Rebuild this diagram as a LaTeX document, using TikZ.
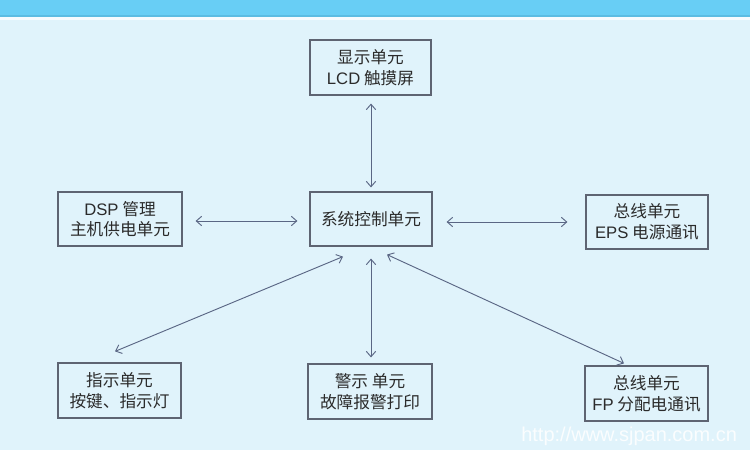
\documentclass[tikz,border=0pt]{standalone}
\usepackage{fontspec}
\setmainfont{Liberation Sans}
\newfontfamily\cjk{Noto Sans CJK SC}
\newfontfamily\lat{Liberation Sans}
\usetikzlibrary{arrows.meta,calc}
\definecolor{bandblue}{HTML}{68CEF5}
\definecolor{bandline}{HTML}{5CBCE2}
\definecolor{bgblue}{HTML}{E0F3FB}
\definecolor{boxline}{HTML}{5E6472}
\definecolor{arrowc}{HTML}{5A6684}
\definecolor{txt}{HTML}{2B2B2B}
\tikzset{
  unitbox/.style={draw=boxline, line width=0.9pt, fill=bgblue, text=txt,
    font=\cjk\fontsize{12.5}{15.5}\selectfont, align=center, inner sep=0pt},
  link/.style={draw=arrowc, line width=0.7pt, {Straight Barb[length=4pt,width=7pt]}-{Straight Barb[length=4pt,width=7pt]}}
}
\begin{document}
\begin{tikzpicture}[x=0.75pt,y=-0.75pt]
\useasboundingbox (0,0) rectangle (750,450);
\fill[bgblue] (0,0) rectangle (750,450);
\fill[bandblue] (0,0) rectangle (750,15);
\fill[bandline] (0,14.5) rectangle (750,16.5);
\fill[white!70!bgblue] (0,16.5) rectangle (750,19.5);

\node[unitbox, minimum width=121*0.75pt, minimum height=55*0.75pt] (top) at (370.5,67.5) {显示单元\\{\lat LCD} 触摸屏};
\node[unitbox, minimum width=122*0.75pt, minimum height=54*0.75pt] (ctr) at (371,219) {系统控制单元};
\node[unitbox, minimum width=124*0.75pt, minimum height=54*0.75pt] (lft) at (120,219) {{\lat DSP} 管理\\主机供电单元};
\node[unitbox, minimum width=122*0.75pt, minimum height=54*0.75pt] (rgt) at (647,222) {总线单元\\{\lat EPS} 电源通讯};
\node[unitbox, minimum width=123*0.75pt, minimum height=55*0.75pt] (bl) at (119.5,390.5) {指示单元\\按键、指示灯};
\node[unitbox, minimum width=124*0.75pt, minimum height=55*0.75pt] (bm) at (370,391.5) {警示 单元\\故障报警打印};
\node[unitbox, minimum width=123*0.75pt, minimum height=55*0.75pt] (br) at (646.5,393.5) {总线单元\\{\lat FP} 分配电通讯};

\draw[link, shorten <=8*0.75pt, shorten >=4*0.75pt] (top.south -| 371,0) -- (ctr.north -| 371,0);
\draw[link, shorten <=13*0.75pt, shorten >=12*0.75pt] (lft.east |- 0,221) -- (ctr.west |- 0,221);
\draw[link, shorten <=14*0.75pt, shorten >=18*0.75pt] (ctr.east |- 0,222) -- (rgt.west |- 0,222);
\draw[link, shorten <=12*0.75pt, shorten >=6*0.75pt] (ctr.south -| 371,0) -- (bm.north -| 371,0);
\draw[link] ($(ctr.south)+(-28,10)$) -- ($(bl.north)+(-4.5,-11)$);
\draw[link] ($(ctr.south)+(16,8)$) -- ($(br.north)+(-22.5,-2)$);

\node[text=white, opacity=0.85, font=\fontsize{15}{15}\selectfont, anchor=west, inner sep=0pt] (wm) at (521,436) {http://www.sjpan.com.cn};
\end{tikzpicture}
\end{document}
